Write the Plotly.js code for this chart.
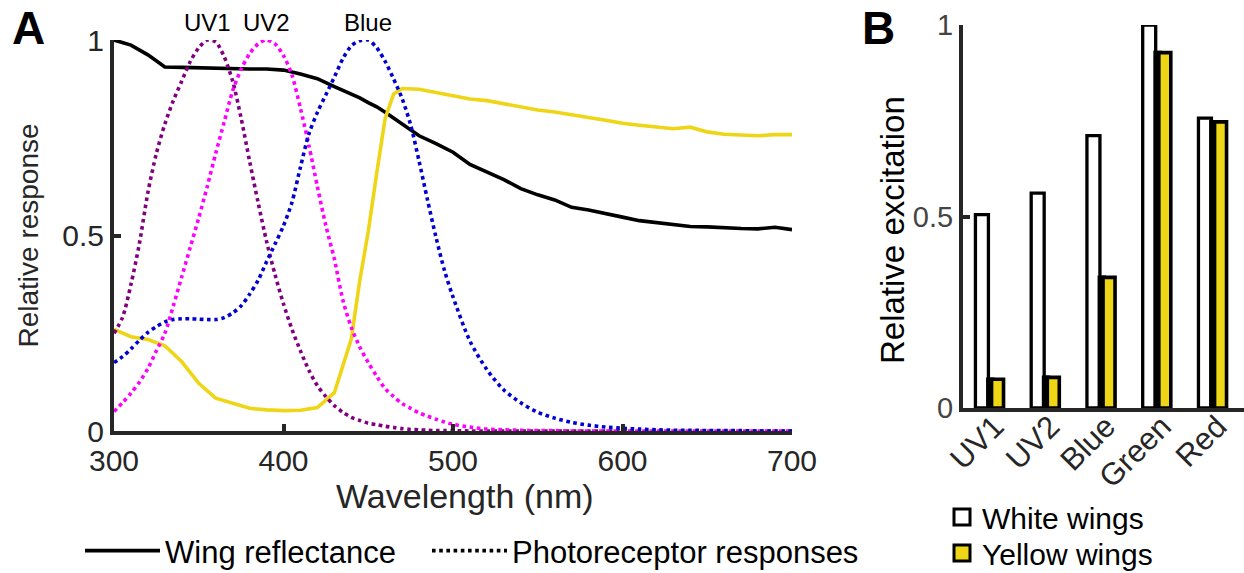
<!DOCTYPE html>
<html>
<head>
<meta charset="utf-8">
<script src="https://cdn.plot.ly/plotly-3.0.1.min.js"></script>
<style>
  html, body { margin: 0; padding: 0; background: #ffffff; }
  #chart { width: 1244px; height: 573px; }
</style>
</head>
<body>
<div id="chart"></div>
<script>
// ---- Panel A: wing reflectance (solid) ----
const reflWavelength = [300, 310, 320, 330, 340, 350, 360, 370, 380, 390, 400, 410, 420, 430, 440,
  445, 450, 455, 460, 465, 470,
  480, 490, 500, 510, 520, 530, 540, 550, 560, 570, 580, 590, 600, 610, 620, 630, 640, 650, 660, 670, 680, 690, 700];
const reflWhiteWing = [1.000, 0.987, 0.962, 0.931, 0.930, 0.929, 0.927, 0.925, 0.926, 0.926, 0.923, 0.913, 0.901, 0.881, 0.863,
  0.852, 0.840, 0.829, 0.815, 0.800, 0.785,
  0.755, 0.735, 0.713, 0.682, 0.662, 0.643, 0.620, 0.604, 0.591, 0.572, 0.565, 0.557, 0.547, 0.538, 0.533, 0.527, 0.523, 0.522, 0.519, 0.518, 0.517, 0.521, 0.515];
const reflYellowWing = [0.260, 0.241, 0.234, 0.218, 0.177, 0.122, 0.084, 0.072, 0.058, 0.054, 0.052, 0.053, 0.060, 0.098, 0.235,
  0.385, 0.510, 0.660, 0.800, 0.862, 0.876,
  0.874, 0.866, 0.858, 0.849, 0.845, 0.837, 0.827, 0.821, 0.816, 0.810, 0.802, 0.795, 0.787, 0.782, 0.777, 0.773, 0.777, 0.765, 0.759, 0.757, 0.755, 0.758, 0.758];

// ---- Panel A: photoreceptor spectral responses (dotted) ----
const rcpWavelength = [300, 305, 310, 315, 320, 325, 330, 335, 340, 345, 350, 355, 360, 365, 370, 375, 380, 385, 390, 395,
  400, 405, 410, 415, 420, 425, 430, 435, 440, 445, 450, 455, 460, 465, 470, 475, 480, 485, 490, 495, 500,
  510, 520, 530, 540, 550, 560, 570, 580, 590, 600, 610, 620, 630, 640, 650, 660, 670, 680, 690, 700];
const respUV1 = [0.25, 0.29, 0.375, 0.48, 0.61, 0.71, 0.785, 0.845, 0.895, 0.945, 0.98, 1.0, 0.995, 0.957, 0.895, 0.80, 0.69, 0.585, 0.485, 0.40,
  0.325, 0.26, 0.205, 0.155, 0.116, 0.088, 0.065, 0.048, 0.035, 0.027, 0.02, 0.016, 0.012, 0.009, 0.006, 0.004, 0.003, 0.002, 0.001, 0.001, 0.001,
  0, 0, 0, 0, 0, 0, 0, 0, 0, 0, 0, 0, 0, 0, 0, 0, 0, 0, 0, 0];
const respUV2 = [0.05, 0.072, 0.097, 0.125, 0.16, 0.205, 0.25, 0.32, 0.395, 0.47, 0.545, 0.625, 0.71, 0.79, 0.87, 0.925, 0.965, 0.99, 1.0, 0.99,
  0.96, 0.91, 0.825, 0.73, 0.625, 0.525, 0.44, 0.335, 0.265, 0.215, 0.175, 0.14, 0.108, 0.088, 0.07, 0.058, 0.046, 0.038, 0.03, 0.023, 0.017,
  0.01, 0.005, 0.003, 0.002, 0.001, 0.001, 0, 0, 0, 0, 0, 0, 0, 0, 0, 0, 0, 0, 0, 0];
const respBlue = [0.175, 0.19, 0.21, 0.232, 0.252, 0.267, 0.279, 0.285, 0.287, 0.287, 0.286, 0.285, 0.285, 0.29, 0.302, 0.32, 0.35, 0.385, 0.433, 0.478,
  0.525, 0.585, 0.675, 0.76, 0.815, 0.86, 0.905, 0.952, 0.985, 0.998, 1.0, 0.98, 0.945, 0.9, 0.85, 0.783, 0.69, 0.59, 0.495, 0.41, 0.343,
  0.23, 0.157, 0.105, 0.072, 0.048, 0.033, 0.022, 0.015, 0.01, 0.007, 0.005, 0.003, 0.002, 0.002, 0.001, 0.001, 0.001, 0, 0, 0];

const xTickValsA = [300, 400, 500, 600, 700];
const yTickValsA = [0, 0.5, 1];
const yTickTextA = ['0', '0.5', '1'];

// ---- Panel B: relative photoreceptor excitation ----
const receptorNames = ['UV1', 'UV2', 'Blue', 'Green', 'Red'];
const excitationWhite = [0.505, 0.561, 0.711, 1.0, 0.757];
const excitationYellow = [0.075, 0.080, 0.341, 0.928, 0.747];
const yTickValsB = [0, 0.5, 1];
const yTickTextB = ['0', '0.5', '1'];

// ---- styling ----
const W = 1244, H = 573;
const FONT = 'Liberation Sans, Arial, Helvetica, sans-serif';
const AX = '#262626';
const YELLOW = '#eed516';
const px = v => v / W;          // pixel column -> paper x
const py = v => 1 - v / H;      // pixel row    -> paper y

function peakOf(values) {
  let k = 0;
  values.forEach((v, i) => { if (v > values[k]) k = i; });
  return rcpWavelength[k];
}

const dotted = (color) => ({ color: color, width: 3.6, dash: 'dot', shape: 'spline', smoothing: 0.8 });

const traces = [
  { type: 'scatter', mode: 'lines', name: 'Wing reflectance', x: reflWavelength, y: reflWhiteWing,
    line: { color: '#000000', width: 3.6 }, legend: 'legend', hoverinfo: 'x+y' },
  { type: 'scatter', mode: 'lines', name: 'Yellow wing reflectance', x: reflWavelength, y: reflYellowWing,
    line: { color: YELLOW, width: 3.6 }, showlegend: false, hoverinfo: 'x+y' },
  { type: 'scatter', mode: 'lines', name: 'UV1', x: rcpWavelength, y: respUV1,
    line: dotted('#800080'), showlegend: false },
  { type: 'scatter', mode: 'lines', name: 'UV2', x: rcpWavelength, y: respUV2,
    line: dotted('#ff00ff'), showlegend: false },
  { type: 'scatter', mode: 'lines', name: 'Blue', x: rcpWavelength, y: respBlue,
    line: dotted('#0000d2'), showlegend: false },
  // legend entry for the dotted receptor curves
  { type: 'scatter', mode: 'lines', name: 'Photoreceptor responses', x: [null], y: [null],
    line: { color: '#000000', width: 3.6, dash: 'dot' }, legend: 'legend3', hoverinfo: 'skip' },

  // Panel B bars
  { type: 'bar', name: 'White wings', x: receptorNames, y: excitationWhite, xaxis: 'x2', yaxis: 'y2',
    offset: -0.257, width: 0.233, marker: { color: '#ffffff', line: { color: '#000000', width: 3.3 } },
    showlegend: false, legendgroup: 'white' },
  { type: 'bar', name: 'Yellow wings', x: receptorNames, y: excitationYellow, xaxis: 'x2', yaxis: 'y2',
    offset: -0.034, width: 0.088, marker: { color: '#000000', line: { color: '#000000', width: 3.6 } },
    showlegend: false, legendgroup: 'yellow', hoverinfo: 'skip' },
  { type: 'bar', name: 'Yellow wings', x: receptorNames, y: excitationYellow, xaxis: 'x2', yaxis: 'y2',
    offset: 0.032, width: 0.215, marker: { color: YELLOW, line: { color: '#000000', width: 3.6 } },
    showlegend: false, legendgroup: 'yellow' },
  // legend entries for the bars
  { type: 'scatter', mode: 'markers', name: 'White wings', x: [null], y: [null], xaxis: 'x2', yaxis: 'y2',
    marker: { symbol: 'square', size: 16, color: '#ffffff', line: { color: '#000000', width: 3 } },
    legend: 'legend2', legendgroup: 'white', hoverinfo: 'skip' },
  { type: 'scatter', mode: 'markers', name: 'Yellow wings', x: [null], y: [null], xaxis: 'x2', yaxis: 'y2',
    marker: { symbol: 'square', size: 16, color: YELLOW, line: { color: '#000000', width: 3 } },
    legend: 'legend4', legendgroup: 'yellow', hoverinfo: 'skip' }
];

const axisCommon = {
  showline: true, linecolor: AX, linewidth: 4, showgrid: false, zeroline: false,
  ticks: 'inside', ticklen: 7, tickwidth: 4, tickcolor: AX, automargin: false
};

const legendCommon = {
  orientation: 'v', xanchor: 'left', yanchor: 'middle',
  font: { family: FONT, size: 31, color: '#000000' },
  bgcolor: 'rgba(0,0,0,0)', borderwidth: 0, tracegroupgap: 0
};

const layout = {
  width: W, height: H,
  margin: { l: 0, r: 0, t: 0, b: 0, pad: 0, autoexpand: false },
  paper_bgcolor: '#ffffff', plot_bgcolor: 'rgba(0,0,0,0)',
  font: { family: FONT, color: '#000000' },
  barmode: 'overlay',
  showlegend: true,
  xaxis: Object.assign({}, axisCommon, {
    domain: [px(114), px(792)], range: [300, 700], anchor: 'y',
    tickmode: 'array', tickvals: xTickValsA,
    tickfont: { family: FONT, size: 30, color: AX }
  }),
  yaxis: Object.assign({}, axisCommon, {
    domain: [py(431), py(40)], range: [0, 1], anchor: 'x',
    tickmode: 'array', tickvals: yTickValsA, ticktext: yTickTextA,
    tickfont: { family: FONT, size: 30, color: AX },
    title: { text: 'Relative response', font: { family: FONT, size: 28, color: AX }, standoff: 16 }
  }),
  xaxis2: Object.assign({}, axisCommon, {
    domain: [px(963), 1], range: [-0.48, 4.56], anchor: 'y2', type: 'category',
    ticks: '', tickangle: -45, ticklabelstandoff: -16, ticklabelshift: 5,
    tickfont: { family: FONT, size: 31, color: AX }
  }),
  yaxis2: Object.assign({}, axisCommon, {
    domain: [py(408), py(25)], range: [0, 1], anchor: 'x2',
    tickmode: 'array', tickvals: yTickValsB, ticktext: yTickTextB,
    tickfont: { family: FONT, size: 29, color: '#444444' }
  }),
  legend: Object.assign({}, legendCommon, { x: px(80), y: py(551), itemwidth: 75 }),
  legend3: Object.assign({}, legendCommon, { x: px(427), y: py(551), itemwidth: 75 }),
  legend2: Object.assign({}, legendCommon, { x: px(942), y: py(517), itemsizing: 'trace',
    font: { family: FONT, size: 30, color: '#000000' } }),
  legend4: Object.assign({}, legendCommon, { x: px(942), y: py(553), itemsizing: 'trace',
    font: { family: FONT, size: 30, color: '#000000' } }),
  annotations: [
    // panel letters
    { xref: 'paper', yref: 'paper', x: px(10), y: py(0), xanchor: 'left', yanchor: 'top',
      text: '<b>A</b>', showarrow: false, font: { family: FONT, size: 46, color: '#000000' } },
    { xref: 'paper', yref: 'paper', x: px(860), y: py(0), xanchor: 'left', yanchor: 'top',
      text: '<b>B</b>', showarrow: false, font: { family: FONT, size: 46, color: '#000000' } },
    // axis titles
    { xref: 'paper', yref: 'paper', x: px(465), y: py(496), xanchor: 'center', yanchor: 'middle',
      text: 'Wavelength (nm)', showarrow: false, font: { family: FONT, size: 34, color: AX } },
    { xref: 'paper', yref: 'paper', x: px(893), y: py(230), xanchor: 'center', yanchor: 'middle',
      textangle: -90, text: 'Relative excitation', showarrow: false,
      font: { family: FONT, size: 33, color: '#000000' } },
    // receptor peak labels
    { xref: 'x', yref: 'y', x: peakOf(respUV1), y: 1, yanchor: 'bottom', yshift: 2,
      text: 'UV1', showarrow: false, font: { family: FONT, size: 24, color: '#000000' } },
    { xref: 'x', yref: 'y', x: peakOf(respUV2), y: 1, yanchor: 'bottom', yshift: 2,
      text: 'UV2', showarrow: false, font: { family: FONT, size: 24, color: '#000000' } },
    { xref: 'x', yref: 'y', x: peakOf(respBlue), y: 1, yanchor: 'bottom', yshift: 2,
      text: 'Blue', showarrow: false, font: { family: FONT, size: 24, color: '#000000' } }
  ]
};

Plotly.newPlot('chart', traces, layout, { displayModeBar: false, responsive: false });
</script>
</body>
</html>
